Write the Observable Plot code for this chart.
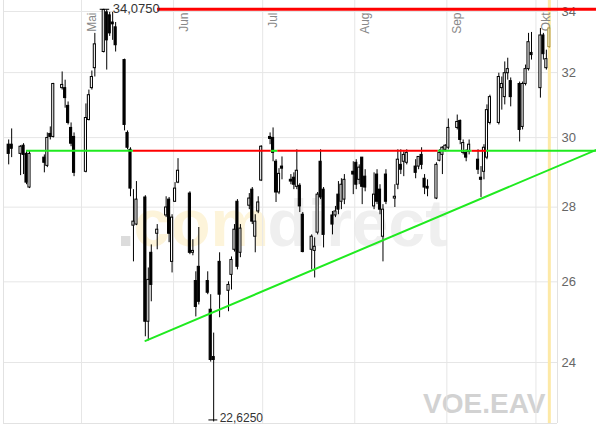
<!DOCTYPE html>
<html><head><meta charset="utf-8">
<script src="https://cdn.jsdelivr.net/npm/d3@7"></script>
<script src="https://cdn.jsdelivr.net/npm/@observablehq/plot@0.6"></script>
<style>body{margin:0;background:#fff}</style>
</head><body><div id="chart"></div>
<script>
const dates = [
"2006-04-06","2006-04-07","2006-04-10","2006-04-11","2006-04-12","2006-04-13","2006-04-18","2006-04-19","2006-04-20","2006-04-21","2006-04-24","2006-04-25","2006-04-26","2006-04-27","2006-04-28",
"2006-05-02","2006-05-03","2006-05-04","2006-05-05","2006-05-08","2006-05-09","2006-05-10","2006-05-11","2006-05-12","2006-05-15","2006-05-16","2006-05-17","2006-05-18","2006-05-19","2006-05-22","2006-05-23","2006-05-24","2006-05-26","2006-05-29","2006-05-30","2006-05-31",
"2006-06-01","2006-06-02","2006-06-06","2006-06-07","2006-06-08","2006-06-09","2006-06-12","2006-06-13","2006-06-14","2006-06-16","2006-06-19","2006-06-20","2006-06-21","2006-06-22","2006-06-23","2006-06-26","2006-06-27","2006-06-28","2006-06-29","2006-06-30",
"2006-07-03","2006-07-04","2006-07-05","2006-07-06","2006-07-07","2006-07-10","2006-07-11","2006-07-12","2006-07-13","2006-07-14","2006-07-17","2006-07-18","2006-07-19","2006-07-20","2006-07-21","2006-07-24","2006-07-25","2006-07-26","2006-07-27","2006-07-28","2006-07-31",
"2006-08-01","2006-08-02","2006-08-03","2006-08-04","2006-08-07","2006-08-08","2006-08-09","2006-08-10","2006-08-11","2006-08-14","2006-08-15","2006-08-16","2006-08-17","2006-08-18","2006-08-21","2006-08-22","2006-08-23","2006-08-24","2006-08-25","2006-08-28","2006-08-29","2006-08-30","2006-08-31",
"2006-09-01","2006-09-04","2006-09-05","2006-09-06","2006-09-07","2006-09-08","2006-09-11","2006-09-12","2006-09-13","2006-09-14","2006-09-15","2006-09-18","2006-09-19","2006-09-20","2006-09-21","2006-09-22","2006-09-25","2006-09-26","2006-09-27","2006-09-28","2006-09-29",
"2006-10-02","2006-10-03","2006-10-04","2006-10-05"];
const open = [
29.79,29.79,29.52,29.76,29.52,28.55,29.41,29.17,30.11,30.02,31.51,31.51,30.96,30.29,30.02,
29.00,30.53,31.51,32.14,32.66,33.97,33.87,33.63,33.47,32.40,30.14,29.64,27.49,27.52,28.27,24.99,26.76,27.27,27.77,28.21,26.52,
28.15,28.69,28.38,26.76,26.02,26.39,26.02,25.29,24.13,26.52,25.77,26.18,26.84,28.15,26.76,28.04,28.49,27.19,27.88,28.75,
30.02,29.99,29.29,28.41,29.15,28.77,28.83,28.57,28.60,27.79,26.84,26.81,27.30,29.29,28.49,27.77,27.77,28.35,28.15,28.21,29.00,
29.26,28.77,29.41,28.86,28.02,28.92,28.49,27.19,28.92,28.24,28.63,29.20,29.29,29.26,29.15,29.15,29.49,28.80,28.57,28.24,29.32,29.49,29.64,
29.70,30.29,30.50,29.55,29.55,29.58,29.35,28.83,29.00,29.41,30.44,30.44,31.51,31.23,31.98,31.73,31.64,30.32,31.64,32.11,32.63,
31.51,33.20,32.14,32.82];
const high = [
29.93,30.26,29.76,29.82,29.61,29.61,29.49,30.14,30.32,31.66,32.02,31.76,31.08,30.44,30.14,
31.02,31.45,32.05,33.27,34.075,34.05,33.97,33.97,33.63,32.43,30.20,29.70,28.49,28.72,28.32,26.36,26.97,27.52,28.29,28.27,27.79,
28.69,29.38,28.43,27.11,26.26,27.44,26.26,25.67,24.71,26.76,26.00,26.65,27.52,28.21,27.52,28.38,28.55,27.79,28.29,29.76,
30.14,30.29,29.35,29.09,29.43,28.92,28.97,29.64,28.66,27.85,27.24,27.16,28.41,29.64,28.55,27.88,28.02,28.72,28.80,28.92,29.29,
29.35,29.20,29.41,29.06,28.97,29.06,28.63,28.07,29.06,28.63,29.64,29.64,29.58,29.64,29.35,29.43,29.70,28.92,28.77,29.26,29.64,29.73,29.79,
30.56,30.68,30.53,29.93,29.64,29.93,29.64,29.15,29.79,30.99,31.29,31.98,31.86,32.34,32.46,31.83,31.70,31.70,32.24,33.27,33.30,
33.43,33.27,32.72,33.47];
const low = [
29.20,29.41,28.89,28.92,28.63,28.52,28.97,29.12,29.93,29.99,31.45,30.89,30.38,29.73,28.86,
28.97,30.50,31.45,31.86,32.63,32.08,33.17,33.04,32.66,30.20,29.64,28.29,26.52,27.49,24.62,24.52,25.49,26.84,27.71,27.03,26.23,
28.13,28.66,26.71,26.68,25.11,25.41,25.67,24.01,22.625,25.09,25.24,25.79,26.78,26.31,26.63,27.93,27.52,26.76,27.82,28.72,
29.79,29.29,28.13,28.35,28.77,28.63,28.49,28.49,27.85,26.76,26.31,26.10,27.24,28.21,26.89,27.24,27.71,27.79,27.93,28.07,28.35,
28.49,28.63,28.07,28.43,27.93,28.07,27.79,26.52,28.07,27.99,28.49,28.92,28.86,29.20,28.80,29.06,29.06,28.35,28.29,28.21,29.29,28.92,29.58,
29.64,30.23,29.79,29.49,29.29,29.49,28.92,28.27,28.77,29.35,30.38,30.38,30.83,30.99,31.76,30.93,29.87,30.23,31.58,32.05,32.40,
31.20,32.40,32.08,32.78];
const close = [
29.52,29.67,29.73,29.49,28.69,29.52,29.26,29.99,30.02,31.64,31.61,31.20,30.44,29.82,28.97,
30.59,31.29,31.86,32.91,34.05,33.04,33.27,33.57,32.88,30.38,29.70,28.52,27.60,28.21,24.99,26.05,25.92,27.38,27.99,27.27,27.71,
28.52,29.03,26.76,26.81,25.36,25.49,25.72,24.06,24.06,25.67,25.92,26.57,27.38,26.39,27.41,28.24,27.60,27.60,28.13,29.73,
29.96,29.55,28.41,28.94,29.09,28.72,28.63,29.03,28.02,26.78,27.19,26.92,28.35,28.27,27.24,27.52,27.88,27.93,28.63,28.77,28.92,
28.63,29.12,28.57,28.55,28.35,28.15,27.93,27.93,28.15,28.29,29.35,29.06,29.49,29.55,28.97,29.43,29.20,28.55,28.52,29.20,29.55,29.70,29.76,
30.29,30.47,29.93,29.84,29.41,29.79,29.06,28.77,29.70,30.83,31.23,31.86,31.64,31.98,32.11,31.23,30.23,31.64,32.11,32.98,32.56,
33.20,32.59,32.43,33.43];

const monthStarts = ["2006-05-01","2006-06-01","2006-07-01","2006-08-01","2006-09-01","2006-10-01"];
const monthLabels = ["Mai","Jun","Jul","Aug","Sep","Okt"];
const yTicks = [24,26,28,30,32,34];

// horizontal support/resistance level with coloured segments
const levelPrice = 29.61;
const levelStart = ["2006-04-12T11:30Z","2006-05-18T12:15Z","2006-07-03T20:40Z","2006-07-06T02:00Z","2006-08-29T02:00Z","2006-09-09T12:40Z","2006-09-14T08:10Z"];
const levelEnd   = ["2006-05-18T12:15Z","2006-07-03T20:40Z","2006-07-06T02:00Z","2006-08-29T02:00Z","2006-09-09T12:40Z","2006-09-14T08:10Z","2006-10-21T09:00Z"];
const levelColor = ["green","red","green","red","green","red","green"];

// rising trend line
const trendDates = ["2006-05-22T13:10Z","2006-10-21T09:00Z"];
const trendPrices = [24.52, 29.64];

// resistance at period high
const resistStart = "2006-05-26T14:00Z";
const resistEnd = "2006-10-21T09:00Z";

const symbol = "VOE.EAV";
const hiLabel = "34,0750";
const loLabel = "22,6250";

const DAY = 864e5;
const GREEN = "#1fea1f", RED = "#ff0000";
const candles = dates.map((d, i) => ({
  date: new Date(Date.parse(d) + DAY / 2),
  o: open[i], h: high[i], l: low[i], c: close[i],
  up: close[i] >= open[i], last: i === dates.length - 1
}));
const bw = 0.36 * DAY;
const xDomain = [new Date("2006-04-04T18:00Z"), new Date("2006-10-08T06:00Z")];
const yDomain = [22.59, 34.373];
const segs = levelStart.map((s, i) => ({x1: new Date(s), x2: new Date(levelEnd[i]), y: levelPrice, color: levelColor[i]}));
const trend = trendDates.map((d, i) => ({date: new Date(d), p: trendPrices[i]}));
const hiC = candles.reduce((a, b) => b.h > a.h ? b : a);
const loC = candles.reduce((a, b) => b.l < a.l ? b : a);
const lastC = candles[candles.length - 1];
const body = (d) => ({x1: new Date(+d.date - bw), x2: new Date(+d.date + bw)});

const chart = Plot.plot({
  width: 596, height: 425,
  marginLeft: 3, marginRight: 39, marginTop: 0, marginBottom: 2,
  style: {fontFamily: "'Liberation Sans', Arial, sans-serif", fontSize: "12px", color: "#666", background: "#fff", overflow: "visible"},
  x: {type: "utc", domain: xDomain, axis: null},
  y: {type: "log", domain: yDomain, axis: null},
  marks: [
    // watermark
    Plot.text(["."], {frameAnchor: "top-left", dx: 113, dy: 245, lineAnchor: "bottom", textAnchor: "start", fontSize: 66, fontWeight: "bold", fill: "#dcdcdc"}),
    Plot.text(["com"], {frameAnchor: "top-left", dx: 130, dy: 245, lineAnchor: "bottom", textAnchor: "start", fontSize: 66, fontWeight: "bold", fill: "#fdf4da"}),
    Plot.text(["direct"], {frameAnchor: "top-left", dx: 264, dy: 245, lineAnchor: "bottom", textAnchor: "start", fontSize: 66, fontWeight: "bold", fill: "#efefef"}),
    Plot.text([symbol], {frameAnchor: "top-left", dx: 542, dy: 412, lineAnchor: "bottom", textAnchor: "end", fontSize: 28, fontWeight: "bold", fill: "#d2d2d2"}),
    // grid
    Plot.ruleY(yTicks, {stroke: "#e6e6e6"}),
    Plot.ruleX(monthStarts.map(d => new Date(d)), {stroke: "#e6e6e6"}),
    Plot.ruleX(xDomain, {stroke: "#e2e2e2"}),
    Plot.ruleY([yDomain[0]], {stroke: "#e2e2e2"}),
    // current day highlight
    Plot.ruleX([lastC.date], {stroke: "#fde9a6", strokeWidth: 3}),
    // month labels
    Plot.text(monthStarts.map((d, i) => ({date: new Date(d), label: monthLabels[i]})), {x: "date", text: "label", frameAnchor: "top", dy: 12, dx: 6, rotate: -90, textAnchor: "end", fill: "#888", fontSize: 12}),
    // y labels on the right
    Plot.text(yTicks, {y: d => d, text: d => String(d), frameAnchor: "right", dx: 4, textAnchor: "start", fill: "#666", fontSize: 13}),
    // candles
    Plot.ruleX(candles.filter(d => !d.last), {x: "date", y1: "l", y2: "h", stroke: "#000"}),
    Plot.ruleX([lastC], {x: "date", y1: "l", y2: "h", stroke: "#a8954a"}),
    Plot.rect(candles.filter(d => !d.up), {x1: d => body(d).x1, x2: d => body(d).x2, y1: "o", y2: "c", fill: "#000", stroke: "#000"}),
    Plot.rect(candles.filter(d => d.up && !d.last), {x1: d => body(d).x1, x2: d => body(d).x2, y1: "o", y2: "c", fill: "#fff", stroke: "#000"}),
    Plot.rect([lastC], {x1: d => body(d).x1, x2: d => body(d).x2, y1: "o", y2: "c", fill: "#fdf0c0", stroke: "#a8954a"}),
    // level line segments
    Plot.ruleY(segs.filter(s => s.color === "green"), {x1: "x1", x2: "x2", y: "y", stroke: GREEN, strokeWidth: 2}),
    Plot.ruleY(segs.filter(s => s.color === "red"), {x1: "x1", x2: "x2", y: "y", stroke: RED, strokeWidth: 2}),
    // trend line
    Plot.line(trend, {x: "date", y: "p", stroke: GREEN, strokeWidth: 2}),
    // resistance at high
    Plot.ruleY([hiC.h], {x1: new Date(resistStart), x2: new Date(resistEnd), stroke: RED, strokeWidth: 3}),
    // high / low annotations
    Plot.ruleY([hiC], {y: "h", x1: d => new Date(+d.date - 1.2 * DAY), x2: d => new Date(+d.date + 2 * DAY), stroke: "#000"}),
    Plot.text([hiC], {x: "date", y: "h", text: () => hiLabel, dx: 9, textAnchor: "start", fill: "#333", fontSize: 13}),
    Plot.ruleY([loC], {y: "l", dy: -2, x1: d => new Date(+d.date - 1.6 * DAY), x2: d => new Date(+d.date + 1.4 * DAY), stroke: "#000"}),
    Plot.text([loC], {x: "date", y: "l", text: () => loLabel, dx: 6, dy: -3.5, textAnchor: "start", fill: "#333", fontSize: 12})
  ]
});
document.getElementById("chart").appendChild(chart);
</script>
</body></html>
